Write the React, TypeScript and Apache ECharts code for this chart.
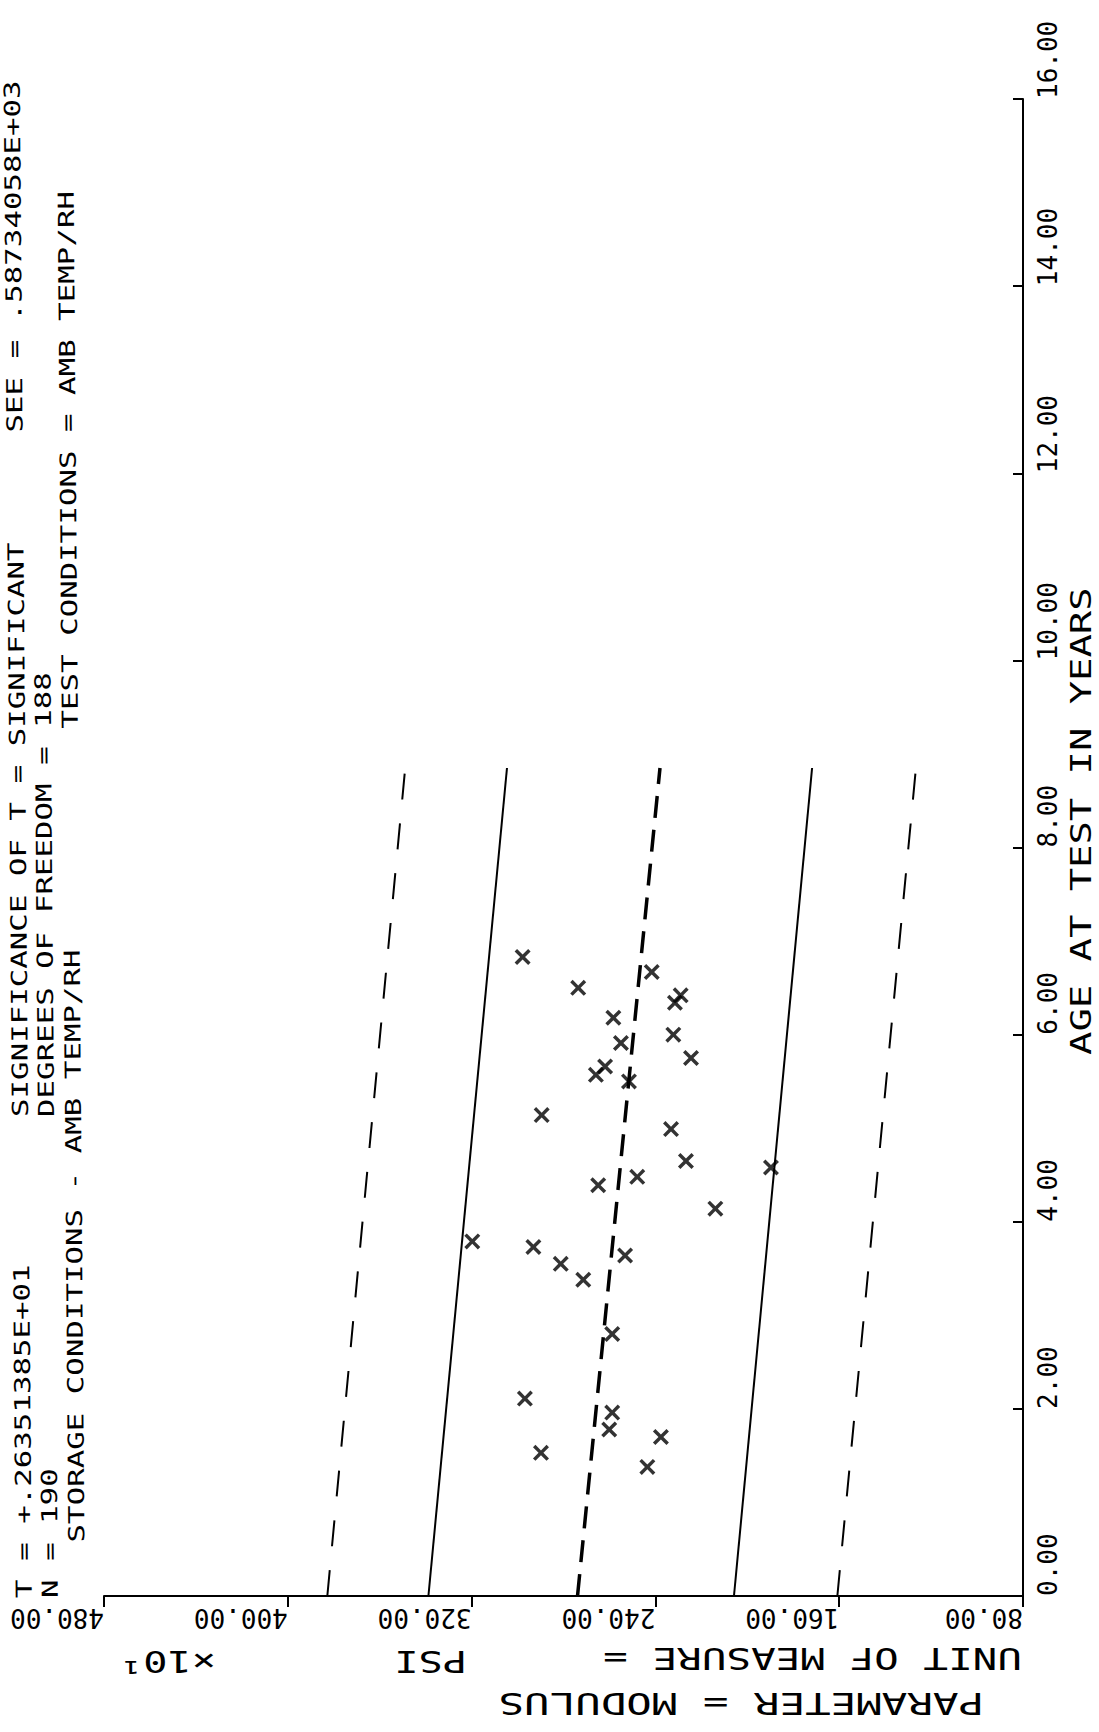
import React, { useEffect, useRef } from "react";
import * as echarts from "echarts";

// ---- axis ticks ----
const psiTicks = [80, 160, 240, 320, 400, 480]; // x10^1 PSI
const ageTicks = [0, 2, 4, 6, 8, 10, 12, 14, 16]; // years

// ---- observed points (modulus, x10 psi) vs age at test ----
const pointPsi = [
  319.7, 297.8, 289.5, 293.1, 281.2, 271.4, 296.8, 289.8, 273.6, 258.3,
  255.0, 261.9, 265.9, 251.5, 264.9, 247.9, 253.2, 258.8, 258.8, 260.1,
  237.6, 243.5, 241.6, 231.5, 229.0, 232.2, 224.5, 233.2, 226.7, 213.9,
  189.7,
];
const pointAge = [
  3.79, 6.83, 5.14, 3.73, 3.55, 3.38, 2.11, 1.53, 6.5, 6.18,
  5.91, 5.66, 5.57, 5.5, 4.39, 4.48, 3.64, 2.8, 1.96, 1.78,
  1.7, 1.38, 6.67, 6.34, 6.42, 6.0, 5.75, 4.99, 4.65, 4.14,
  4.58,
];

// ---- regression line and limits (at age 0 and at end) ----
const lineAges = [0, 8.85];
const regressionPsi = [273.9, 238.0];
const upperConfPsi = [338.8, 304.6];
const lowerConfPsi = [205.8, 171.8];
const upperPredPsi = [382.8, 348.9];
const lowerPredPsi = [160.8, 126.6];

// ---- header text: [line, column, text] ----
const headerSegments: [number, number, string][] = [
  [0, 0, "T = +.26351385E+01"],
  [0, 26, "SIGNIFICANCE OF T = SIGNIFICANT"],
  [0, 63, "SEE = .58734058E+03"],
  [1, 0, "N = 190"],
  [1, 26, "DEGREES OF FREEDOM = 188"],
  [2, 3, "STORAGE CONDITIONS - AMB TEMP/RH"],
  [2, 47, "TEST CONDITIONS = AMB TEMP/RH"],
];

const FONT = "'DejaVu Sans Mono', monospace";

export default function App() {
  const ref = useRef<HTMLDivElement>(null);

  useEffect(() => {
    if (!ref.current) return;
    const chart = echarts.init(ref.current, undefined, { renderer: "svg" });

    const xMark =
      "path://M0,2.3L2.3,0L7.5,5.2L12.7,0L15,2.3L9.8,7.5L15,12.7L12.7,15L7.5,9.8L2.3,15L0,12.7L5.2,7.5Z";

    const mkLine = (psi: number[], style: any) => ({
      type: "line",
      data: lineAges.map((a, i) => [psi[i], a]),
      showSymbol: false,
      symbol: "none",
      silent: true,
      lineStyle: { color: "#000", ...style },
      z: 2,
    });

    // header elements (rotated, reading bottom to top, slightly skewed)
    const skew = 0.008;
    const lineX = [24, 50, 77];
    const adv = 18.5;
    const headerEls = headerSegments.map(([ln, col, text]) => {
      const d = col * adv;
      return {
        type: "text",
        x: lineX[ln] - d * Math.sin(skew),
        y: 1598 - d * Math.cos(skew),
        rotation: Math.PI / 2 + skew,
        scaleX: 1.4,
        style: {
          text,
          fill: "#000",
          fontSize: 22,
          fontFamily: FONT,
          align: "left",
          verticalAlign: "middle",
        },
      };
    });

    const titleStyle = (text: string, size = 31) => ({
      text,
      fill: "#000",
      fontSize: size,
      fontFamily: FONT,
      align: "left",
      verticalAlign: "middle",
    });

    const option: any = {
      animation: false,
      backgroundColor: "#fff",
      grid: { left: 104, right: 76, top: 99, bottom: 136 },
      xAxis: {
        type: "value",
        min: psiTicks[0],
        max: psiTicks[psiTicks.length - 1],
        interval: psiTicks[1] - psiTicks[0],
        inverse: true,
        position: "bottom",
        axisLine: { show: true, onZero: false, lineStyle: { color: "#000", width: 2 } },
        axisTick: { show: true, inside: false, length: 11, lineStyle: { color: "#000", width: 2 } },
        axisLabel: {
          rotate: 180,
          align: "left",
          verticalAlign: "bottom",
          margin: 9,
          color: "#000",
          fontSize: 26,
          fontFamily: FONT,
          formatter: (v: number) => v.toFixed(2),
        },
        splitLine: { show: false },
      },
      yAxis: {
        type: "value",
        min: ageTicks[0],
        max: ageTicks[ageTicks.length - 1],
        interval: ageTicks[1] - ageTicks[0],
        position: "right",
        axisLine: { show: true, onZero: false, lineStyle: { color: "#000", width: 2 } },
        axisTick: { show: true, inside: true, length: 10, lineStyle: { color: "#000", width: 2 } },
        axisLabel: {
          rotate: 90,
          align: "left",
          verticalAlign: "top",
          margin: 12,
          color: "#000",
          fontSize: 26,
          fontFamily: FONT,
          formatter: (v: number) => v.toFixed(2),
        },
        splitLine: { show: false },
      },
      graphic: [
        ...headerEls,
        {
          type: "text",
          x: 1022,
          y: 1659,
          rotation: Math.PI,
          scaleX: 1.32,
          style: titleStyle("UNIT OF MEASURE ="),
        },
        {
          type: "text",
          x: 467,
          y: 1662,
          rotation: Math.PI,
          scaleX: 1.3,
          style: titleStyle("PSI"),
        },
        {
          type: "text",
          x: 216,
          y: 1662,
          rotation: Math.PI,
          scaleX: 1.3,
          style: titleStyle("×10¹"),
        },
        {
          type: "text",
          x: 984,
          y: 1704,
          rotation: Math.PI,
          scaleX: 1.37,
          style: titleStyle("PARAMETER = MODULUS"),
        },
        {
          type: "text",
          x: 1081,
          y: 1055,
          rotation: Math.PI / 2,
          scaleX: 1.34,
          style: titleStyle("AGE AT TEST IN YEARS", 29),
        },
      ],
      series: [
        mkLine(upperPredPsi, { width: 2, type: [26, 24] }),
        mkLine(upperConfPsi, { width: 2, type: "solid" }),
        mkLine(regressionPsi, { width: 3.5, type: [22, 12] }),
        mkLine(lowerConfPsi, { width: 2, type: "solid" }),
        mkLine(lowerPredPsi, { width: 2, type: [26, 24] }),
        {
          type: "scatter",
          data: pointPsi.map((p, i) => [p, pointAge[i]]),
          symbol: xMark,
          symbolSize: 16,
          itemStyle: { color: "#000" },
          silent: true,
          z: 3,
        },
      ],
    };

    chart.setOption(option);
    return () => chart.dispose();
  }, []);

  return (
    <div
      ref={ref}
      style={{
        position: "absolute",
        left: 0,
        top: 0,
        width: 1099,
        height: 1732,
        background: "#fff",
      }}
    />
  );
}
